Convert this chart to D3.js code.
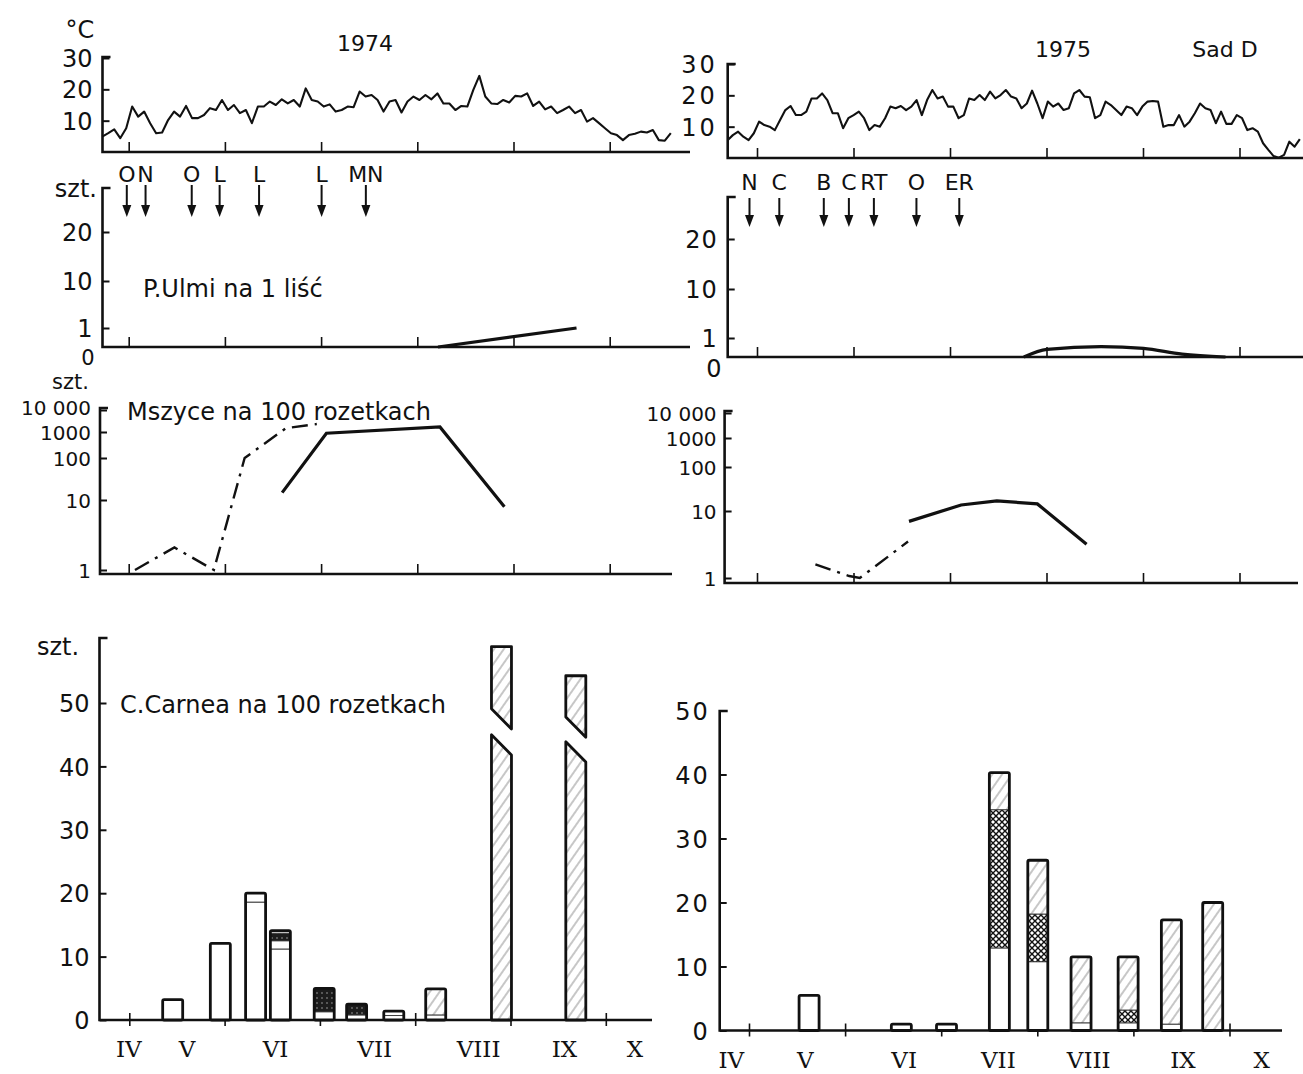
<!DOCTYPE html>
<html>
<head>
<meta charset="utf-8">
<script src="https://d3js.org/d3.v7.min.js"></script>
<style>
  body { margin: 0; background: #fff; }
  text { font-family: "DejaVu Sans", sans-serif; fill: #111; }
  .roman { font-family: "DejaVu Serif", serif; }
</style>
</head>
<body>
<div id="chart"></div>
<script>
// ---- data (months counted from 1 April: 1 = 1 May, 2 = 1 June ...) ----
var monthTicks = [1, 2, 3, 4, 5, 6];
var monthNames = ["IV", "V", "VI", "VII", "VIII", "IX", "X"];
var monthLabelAt74 = [0.99, 1.6, 2.53, 3.57, 4.66, 5.56, 6.3];
var monthLabelAt75 = [0.81, 1.58, 2.61, 3.59, 4.53, 5.51, 6.33];

// daily mean temperature, roughly every 2nd day
var temp74Span = [0.72, 6.63];
var temp74 = [4.9,6.0,7.2,4.4,7.6,14.5,11.3,12.9,9.2,6.0,6.2,10.2,12.9,11.3,14.7,10.8,10.8,11.8,14.0,13.4,
  16.6,13.4,15.0,12.4,13.4,9.2,14.5,14.5,16.1,15.0,16.8,15.5,16.6,14.5,20.3,16.6,16.1,14.5,15.2,12.9,
  13.4,14.5,14.3,19.3,17.7,18.2,16.6,12.9,16.1,16.6,12.6,16.1,17.7,16.6,18.2,16.8,18.7,15.5,15.5,13.4,
  14.7,14.5,19.8,24.3,17.7,15.5,15.3,16.6,15.8,17.9,17.7,18.7,14.7,16.1,13.6,14.5,12.4,13.4,14.5,12.4,
  13.4,9.7,10.8,9.2,7.6,6.0,5.4,3.8,5.4,5.8,6.5,6.2,7.0,3.8,3.6,6.0];
var temp75Span = [0.69, 6.62];
var temp75 = [5.7,7.3,8.4,6.8,5.7,7.9,11.6,10.5,10.0,8.9,12.1,15.3,16.6,13.7,13.7,14.8,19.0,19.0,20.6,18.5,
  14.3,14.3,9.5,12.7,13.7,14.8,12.7,8.9,10.5,10.0,12.7,16.4,15.9,16.6,15.3,16.4,18.5,13.7,18.5,21.7,
  19.0,19.6,16.4,16.4,12.7,13.7,19.0,18.5,20.1,18.5,21.2,19.0,20.1,21.7,19.6,19.0,15.9,17.4,21.5,17.4,
  12.7,18.0,16.4,17.4,15.3,15.9,20.6,21.7,19.6,19.4,12.7,13.7,18.0,16.9,15.3,13.7,16.4,15.9,13.7,16.4,
  18.0,18.2,18.0,10.0,10.5,10.5,13.7,10.0,11.6,14.3,17.4,15.9,15.3,11.1,14.8,10.9,10.9,13.7,12.7,8.9,
  9.5,8.4,4.7,2.6,0.6,0.1,1.0,5.2,3.6,6.0];

// treatments (arrows)
var sprays74Month = [0.975, 1.17, 1.65, 1.94, 2.35, 3.0, 3.46];
var sprays74Label = ["O", "N", "O", "L", "L", "L", "MN"];
var sprays75Month = [0.917, 1.226, 1.687, 1.947, 2.206, 2.647, 3.091];
var sprays75Label = ["N", "C", "B", "C", "RT", "O", "ER"];

// P. ulmi per leaf
var ulmi74Month = [4.21, 5.65];
var ulmi74 = [0, 1];
var ulmi75Month = [3.76, 4.0, 4.56, 5.0, 5.4, 5.85];
var ulmi75 = [0, 0.4, 0.55, 0.45, 0.15, 0];

// aphids per 100 rosettes (dash-dot and solid lines)
var aphidA74Month = [1.06, 1.47, 1.88, 2.2, 2.63, 2.95];
var aphidA74 = [1, 2.1, 1, 100, 1500, 2300];
var aphidB74Month = [2.59, 3.05, 4.23, 4.9];
var aphidB74 = [15, 900, 1700, 8];
var aphidA75Month = [1.6, 1.95, 2.06, 2.56];
var aphidA75 = [1.6, 1.07, 1.0, 3.5];
var aphidB75Month = [2.57, 3.11, 3.48, 3.9, 4.41];
var aphidB75 = [7, 13.7, 17, 14.5, 3.2];
var aphidTicks = [1, 10, 100, 1000, 10000];
var aphidTickLabels = ["1", "10", "100", "1000", "10 000"];

// C. carnea per 100 rosettes, stacked by stage
var bars74Month = [1.45, 1.95, 2.32, 2.58, 3.04, 3.38, 3.77, 4.21, 4.90, 5.68];
var bars74 = [
  [["open", 3.2]],
  [["open", 12.1]],
  [["open", 18.6], ["open", 1.4]],
  [["open", 11.2], ["open", 1.3], ["dark", 1.2], ["open", 0.4]],
  [["open", 1.3], ["dark", 3.7]],
  [["open", 0.8], ["dark", 1.7]],
  [["open", 0.7], ["open", 0.7]],
  [["open", 0.8], ["hatch", 4.1]],
  [["hatch", 58.9]],
  [["hatch", 54.3]]
];
var broken74 = [8, 9];
var breakLow74 = [45.0, 43.9];
var breakHigh74 = [49.1, 47.8];

var bars75Month = [1.62, 2.58, 3.05, 3.60, 4.0, 4.45, 4.94, 5.39, 5.82];
var bars75 = [
  [["open", 5.5]],
  [["open", 1.0]],
  [["open", 1.0]],
  [["open", 12.9], ["cross", 21.6], ["hatch", 5.8]],
  [["open", 10.75], ["cross", 7.45], ["hatch", 8.4]],
  [["open", 1.2], ["hatch", 10.3]],
  [["open", 1.2], ["cross", 2.0], ["hatch", 8.3]],
  [["open", 1.0], ["hatch", 16.3]],
  [["hatch", 20]]
];

// ---- svg ----
var svg = d3.select("#chart")
  .append("svg")
    .attr("width", 1303)
    .attr("height", 1074);

var defs = svg.append("defs");
var ph = defs.append("pattern").attr("id", "hatch").attr("patternUnits", "userSpaceOnUse")
  .attr("width", 8).attr("height", 8).attr("patternTransform", "rotate(35)");
ph.append("rect").attr("width", 8).attr("height", 8).attr("fill", "#fff");
ph.append("line").attr("x1", 1).attr("y1", 0).attr("x2", 1).attr("y2", 8)
  .attr("stroke", "#999").attr("stroke-width", 1.1);

var pc = defs.append("pattern").attr("id", "cross").attr("patternUnits", "userSpaceOnUse")
  .attr("width", 6).attr("height", 6);
pc.append("rect").attr("width", 6).attr("height", 6).attr("fill", "#fff");
pc.append("path").attr("d", "M0,0L6,6M6,0L0,6").attr("stroke", "#111").attr("stroke-width", 1.4);

var pd = defs.append("pattern").attr("id", "dark").attr("patternUnits", "userSpaceOnUse")
  .attr("width", 5).attr("height", 5);
pd.append("rect").attr("width", 5).attr("height", 5).attr("fill", "#1c1c1c");
pd.append("circle").attr("cx", 2).attr("cy", 3).attr("r", 0.7).attr("fill", "#bbb");

var fills = { open: "#fff", hatch: "url(#hatch)", cross: "url(#cross)", dark: "url(#dark)" };

// x scales (months)
var xt74 = d3.scaleLinear().domain([0, 1]).range([33, 129.2]);
var xt75 = d3.scaleLinear().domain([0, 1]).range([661, 757.5]);
var xb74 = d3.scaleLinear().domain([0, 1]).range([34.5, 129.8]);
var xb75 = d3.scaleLinear().domain([0, 1]).range([653.4, 749.5]);

// draws y axis line + inward ticks + top tick, baseline and month ticks
function frame(p) {
  var g = svg.append("g");
  var ax = d3.axisLeft(p.y).tickValues(p.ticks).tickSize(-7).tickSizeOuter(0).tickPadding(p.pad || 10)
    .tickFormat(function(d, i) { return p.labels ? p.labels[i] : d; });
  var a = g.append("g").attr("transform", "translate(" + p.x0 + ",0)").call(ax);
  a.select(".domain").remove();
  a.selectAll(".tick line").attr("stroke", "#111").attr("stroke-width", 2);
  var n = p.ticks.length;
  a.selectAll(".tick text").style("font-size", (p.fs || 24) + "px")
    .style("letter-spacing", (p.ls || 0) + "px")
    .attr("dy", function(d, i) { return (p.raiseTop && i === n - 1) ? "0.24em" : "0.36em"; });
  // vertical axis with top tick
  g.append("path")
    .attr("d", "M" + (p.x0 + 8) + "," + p.top + "H" + p.x0 + "V" + p.base + "H" + p.xEnd)
    .attr("fill", "none").attr("stroke", "#111").attr("stroke-width", 2.6);
  // month ticks
  g.selectAll("line.m").data(monthTicks).enter().append("line")
    .attr("x1", function(d) { return p.x(d); }).attr("x2", function(d) { return p.x(d); })
    .attr("y1", p.base + (p.cross ? 6 : 0)).attr("y2", p.base - (p.cross ? 7 : 10))
    .attr("stroke", "#111").attr("stroke-width", 1.6);
  return g;
}

function txt(x, y, s, size, anchor, cls) {
  return svg.append("text").attr("x", x).attr("y", y).text(s)
    .style("font-size", size + "px").attr("text-anchor", anchor || "start")
    .attr("class", cls || null);
}

// ---- temperature ----
var tY74 = d3.scaleLinear().domain([0, 30]).range([152, 58]);
var tY75 = d3.scaleLinear().domain([0, 30]).range([158, 64]);
frame({ x0: 102.5, y: tY74, ticks: [10, 20, 30], top: 57, base: 152, xEnd: 690, x: xt74 });
frame({ x0: 727.7, y: tY75, ticks: [10, 20, 30], top: 64, base: 158, xEnd: 1303, x: xt75, ls: 3 });

function tempLine(vals, span, x, y) {
  var step = (span[1] - span[0]) / (vals.length - 1);
  svg.append("path").datum(vals)
    .attr("fill", "none").attr("stroke", "#111").attr("stroke-width", 2.1).attr("stroke-linejoin", "round")
    .attr("d", d3.line()
      .x(function(d, i) { return x(span[0] + i * step); })
      .y(function(d) { return y(d); }));
}
tempLine(temp74, temp74Span, xt74, tY74);
tempLine(temp75, temp75Span, xt75, tY75);

txt(80, 38, "°C", 24, "middle");
txt(365, 51, "1974", 22, "middle");
txt(1063, 57, "1975", 22, "middle");
txt(1225, 57, "Sad D", 22, "middle");

// ---- P. ulmi ----
var pY74 = d3.scaleLinear().domain([0, 1, 10, 20]).range([347, 328, 281, 232]);
var pY75 = d3.scaleLinear().domain([0, 1, 10, 20]).range([357, 338, 289, 239]);
frame({ x0: 102.5, y: pY74, ticks: [1, 10, 20], top: 188, base: 347, xEnd: 690, x: xt74 });
frame({ x0: 727.7, y: pY75, ticks: [1, 10, 20], top: 197, base: 357, xEnd: 1303, x: xt75, ls: 1 });
txt(88, 365, "0", 21, "middle");
txt(714, 377, "0", 24, "middle");
txt(97, 197, "szt.", 24, "end");
txt(143, 297, "P.Ulmi na 1 liść", 24);

svg.append("path").datum(d3.zip(ulmi74Month, ulmi74))
  .attr("fill", "none").attr("stroke", "#111").attr("stroke-width", 3.2)
  .attr("d", d3.line().x(function(d) { return xt74(d[0]); }).y(function(d) { return pY74(d[1]); }));
svg.append("path").datum(d3.zip(ulmi75Month, ulmi75))
  .attr("fill", "none").attr("stroke", "#111").attr("stroke-width", 3.2)
  .attr("d", d3.line().curve(d3.curveMonotoneX)
    .x(function(d) { return xt75(d[0]); }).y(function(d) { return pY75(d[1]); }));

function arrows(months, labels, x, yLab, y1, y2) {
  var g = svg.append("g").selectAll("g").data(d3.zip(months, labels)).enter().append("g")
    .attr("transform", function(d) { return "translate(" + x(d[0]) + ",0)"; });
  g.append("line").attr("x1", 0).attr("x2", 0).attr("y1", y1).attr("y2", y2 - 8)
    .attr("stroke", "#111").attr("stroke-width", 2);
  g.append("path").attr("d", "M-4.5," + (y2 - 12) + "L4.5," + (y2 - 12) + "L0," + y2 + "Z").attr("fill", "#111");
  g.append("text").attr("y", yLab).attr("text-anchor", "middle").style("font-size", "22px")
    .text(function(d) { return d[1]; });
}
arrows(sprays74Month, sprays74Label, xt74, 182, 185, 217);
arrows(sprays75Month, sprays75Label, xt75, 190, 198, 227);

// ---- aphids (log scale, unequal decades as drawn) ----
var aY74 = d3.scaleLinear().domain([0, 1, 2, 3, 4]).range([570, 500, 458, 432, 410]);
var aY75 = d3.scaleLinear().domain([0, 1, 2, 3, 4]).range([578, 511, 467, 438, 413]);
frame({ x0: 100, y: aY74, ticks: aphidTicks.map(Math.log10), labels: aphidTickLabels, top: 408,
  base: 574, xEnd: 672, x: xt74, pad: 9, fs: 20, raiseTop: true });
frame({ x0: 724.6, y: aY75, ticks: aphidTicks.map(Math.log10), labels: aphidTickLabels, top: 411,
  base: 583, xEnd: 1298, x: xt75, fs: 20, pad: 8 });
txt(52, 389, "szt.", 21);
txt(127, 420, "Mszyce na 100 rozetkach", 24);

function aphidLine(months, vals, x, y, dash) {
  svg.append("path").datum(d3.zip(months, vals))
    .attr("fill", "none").attr("stroke", "#111").attr("stroke-width", dash ? 2.4 : 3.2)
    .attr("stroke-dasharray", dash ? "16,7,3,7" : null)
    .attr("d", d3.line().x(function(d) { return x(d[0]); }).y(function(d) { return y(Math.log10(d[1])); }));
}
aphidLine(aphidA74Month, aphidA74, xt74, aY74, true);
aphidLine(aphidB74Month, aphidB74, xt74, aY74, false);
aphidLine(aphidA75Month, aphidA75, xt75, aY75, true);
aphidLine(aphidB75Month, aphidB75, xt75, aY75, false);

// ---- C. carnea bars ----
var bY74 = d3.scaleLinear().domain([0, 60]).range([1020, 639.6]);
var bY75 = d3.scaleLinear().domain([0, 50]).range([1030.5, 710.5]);
var barW = 20;
frame({ x0: 99.5, y: bY74, ticks: [0, 10, 20, 30, 40, 50], top: 638, base: 1020, xEnd: 652, x: xb74, cross: true });
frame({ x0: 719.7, y: bY75, ticks: [0, 10, 20, 30, 40, 50], top: 711, base: 1030.5, xEnd: 1282, x: xb75, cross: true, ls: 2 });
txt(37, 655, "szt.", 24);
txt(120, 713, "C.Carnea na 100 rozetkach", 24);

function bars(months, stacks, x, y, broken, lows, highs) {
  var g = svg.append("g");
  stacks.forEach(function(segs, i) {
    var xl = x(months[i]) - barW / 2, xr = xl + barW;
    var total = d3.sum(segs, function(s) { return s[1]; });
    var b = broken ? broken.indexOf(i) : -1;
    if (b >= 0) {
      var sl = 3.2;
      var lowP = [[xl, y(0)], [xr, y(0)], [xr, y(lows[b] - sl)], [xl, y(lows[b])]];
      var highP = [[xl, y(highs[b])], [xl, y(total)], [xr, y(total)], [xr, y(highs[b] - sl)]];
      [lowP, highP].forEach(function(pts) {
        g.append("path").attr("d", "M" + pts.join("L") + "Z")
          .attr("fill", fills[segs[0][0]]).attr("stroke", "#111").attr("stroke-width", 2.8)
          .attr("stroke-linejoin", "round");
      });
      return;
    }
    var acc = 0;
    segs.forEach(function(s) {
      g.append("rect").attr("x", xl).attr("width", barW)
        .attr("y", y(acc + s[1])).attr("height", y(acc) - y(acc + s[1]))
        .attr("fill", fills[s[0]]).attr("stroke", "#333").attr("stroke-width", 0.9);
      acc += s[1];
    });
    g.append("rect").attr("x", xl).attr("width", barW)
      .attr("y", y(total)).attr("height", y(0) - y(total)).attr("rx", 1.5)
      .attr("fill", "none").attr("stroke", "#111").attr("stroke-width", 2.8);
  });
}
bars(bars74Month, bars74, xb74, bY74, broken74, breakLow74, breakHigh74);
bars(bars75Month, bars75, xb75, bY75);

monthNames.forEach(function(m, i) {
  txt(xb74(monthLabelAt74[i]), 1057, m, 23, "middle", "roman");
  txt(xb75(monthLabelAt75[i]), 1068, m, 23, "middle", "roman");
});
</script>
</body>
</html>
